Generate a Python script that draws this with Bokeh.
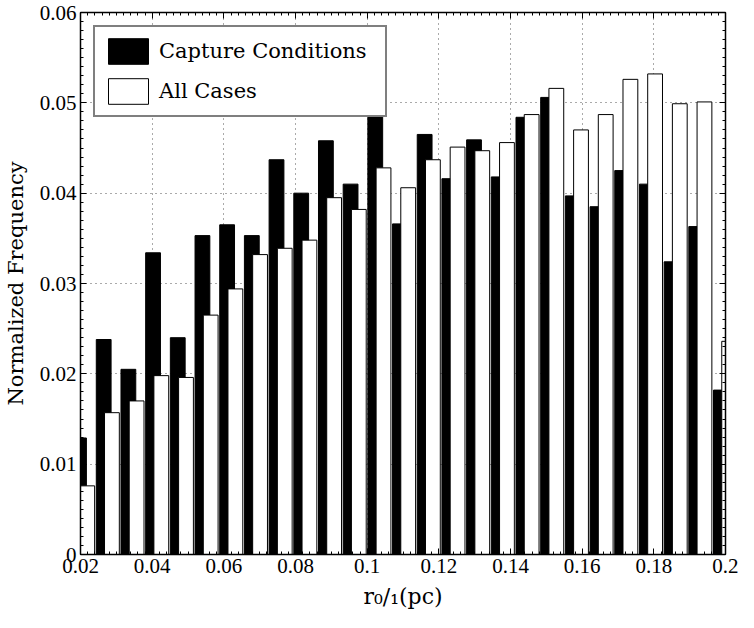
from bokeh.plotting import figure
from bokeh.models import ColumnDataSource, Range1d, LinearAxis, FixedTicker
from bokeh.transform import dodge
from bokeh.embed import file_html
from bokeh.resources import INLINE

# ---- data ----
bin_centers = [0.02073, 0.02762, 0.03451, 0.04140, 0.04829, 0.05518, 0.06207,
               0.06896, 0.07585, 0.08274, 0.08963, 0.09652, 0.10341, 0.11030,
               0.11719, 0.12408, 0.13097, 0.13786, 0.14475, 0.15164, 0.15853,
               0.16542, 0.17231, 0.17920, 0.18609, 0.19298, 0.19987]
capture_conditions = [0.0129, 0.0238, 0.0205, 0.0334, 0.0240, 0.0353, 0.0365,
                      0.0353, 0.0437, 0.0400, 0.0458, 0.0410, 0.0515, 0.0366,
                      0.0465, 0.0416, 0.0459, 0.0418, 0.0484, 0.0506, 0.0397,
                      0.0385, 0.0425, 0.0410, 0.0324, 0.0363, 0.0182]
all_cases = [0.0076, 0.0157, 0.0170, 0.0198, 0.0196, 0.0265, 0.0294,
             0.0332, 0.0339, 0.0348, 0.0395, 0.0382, 0.0428, 0.0406,
             0.0437, 0.0451, 0.0447, 0.0456, 0.0487, 0.0516, 0.0470,
             0.0487, 0.0526, 0.0532, 0.0499, 0.0501, 0.0236]
series_names = ["Capture Conditions", "All Cases"]
x_ticks = [0.02, 0.04, 0.06, 0.08, 0.1, 0.12, 0.14, 0.16, 0.18, 0.2]
x_tick_labels = ["0.02", "0.04", "0.06", "0.08", "0.1", "0.12", "0.14", "0.16", "0.18", "0.2"]
y_ticks = [0, 0.01, 0.02, 0.03, 0.04, 0.05, 0.06]
y_tick_labels = ["0", "0.01", "0.02", "0.03", "0.04", "0.05", "0.06"]
x_label = "r\u2080/\u2081(pc)"
y_label = "Normalized Frequency"

# ---- style constants ----
BAR_W = 0.00413
OFFSET = 0.00115
TICK_FONT = "Liberation Serif"
WORD_FONT = "DejaVu Serif"
x_minor = [round(0.02 + 0.002 * i, 4) for i in range(91)]
y_minor = [round(0.001 * i, 4) for i in range(61)]

src = ColumnDataSource(dict(x=bin_centers, capture=capture_conditions, allc=all_cases))

p = figure(width=738, height=618, output_backend="svg", toolbar_location=None,
           x_range=Range1d(0.02, 0.2), y_range=Range1d(0, 0.06),
           min_border_left=76, min_border_right=13, min_border_top=12,
           min_border_bottom=64)
p.background_fill_color = "white"
p.border_fill_color = "white"
p.outline_line_color = "black"

bottom_ax = p.xaxis[0]
left_ax = p.yaxis[0]

p.vbar(x=dodge('x', -OFFSET, range=p.x_range), top='capture', width=BAR_W,
       source=src, fill_color="black", line_color="black", line_width=1,
       legend_label=series_names[0])
p.vbar(x=dodge('x', OFFSET, range=p.x_range), top='allc', width=BAR_W,
       source=src, fill_color="white", line_color="black", line_width=1,
       legend_label=series_names[1])


def style_axis(ax, ticks, minor, labels, show):
    ax.ticker = FixedTicker(ticks=ticks, minor_ticks=minor)
    ax.major_tick_in = 6
    ax.major_tick_out = 0
    ax.minor_tick_in = 3
    ax.minor_tick_out = 0
    ax.axis_line_color = "black"
    ax.axis_line_width = 1.5
    ax.major_tick_line_color = "black"
    ax.minor_tick_line_color = "black"
    if show:
        ax.major_label_overrides = dict(zip(ticks, labels))
        ax.major_label_text_font = TICK_FONT
        ax.major_label_text_font_size = "21px"
        ax.major_label_text_color = "black"
        ax.major_label_standoff = 4
    else:
        ax.major_label_text_color = None
        ax.major_label_text_font_size = "1px"
        ax.major_label_standoff = 0


style_axis(bottom_ax, x_ticks, x_minor, x_tick_labels, True)
style_axis(left_ax, y_ticks, y_minor, y_tick_labels, True)
top_ax = LinearAxis()
style_axis(top_ax, x_ticks, x_minor, x_tick_labels, False)
p.add_layout(top_ax, "above")
right_ax = LinearAxis()
style_axis(right_ax, y_ticks, y_minor, y_tick_labels, False)
p.add_layout(right_ax, "right")

left_ax.axis_label = y_label
left_ax.axis_label_text_font = WORD_FONT
left_ax.axis_label_text_font_size = "21px"
left_ax.axis_label_text_font_style = "normal"
left_ax.axis_label_text_color = "black"
left_ax.axis_label_standoff = 9

bottom_ax.axis_label = x_label
bottom_ax.axis_label_text_font = WORD_FONT
bottom_ax.axis_label_text_font_size = "22px"
bottom_ax.axis_label_text_font_style = "normal"
bottom_ax.axis_label_text_color = "black"
bottom_ax.axis_label_standoff = 8

p.xgrid.ticker = FixedTicker(ticks=x_ticks)
p.ygrid.ticker = FixedTicker(ticks=y_ticks)
for g in (p.xgrid[0], p.ygrid[0]):
    g.grid_line_color = "#555555"
    g.grid_line_dash = "1 4"
    g.grid_line_width = 1

lg = p.legend[0]
lg.location = "top_left"
lg.margin = 13
lg.padding = 8
lg.spacing = 8
lg.glyph_width = 50
lg.glyph_height = 32
lg.label_height = 32
lg.label_width = 218
lg.label_standoff = 6
lg.label_text_font = WORD_FONT
lg.label_text_font_size = "21px"
lg.label_text_color = "black"
lg.border_line_color = "black"
lg.border_line_width = 2
lg.background_fill_color = "white"
lg.background_fill_alpha = 1.0

open("out.html", "w").write(file_html(p, INLINE))
